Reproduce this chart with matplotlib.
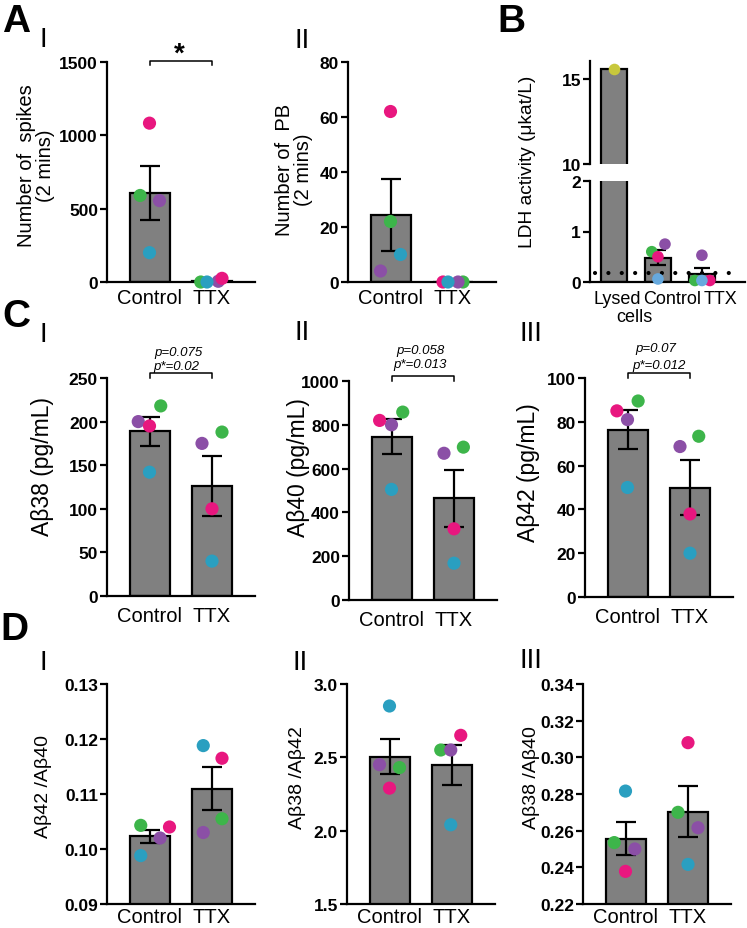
import matplotlib
matplotlib.use('Agg')
import matplotlib.pyplot as plt
import matplotlib.transforms as mtransforms
import numpy as np

plt.rcParams['font.family'] = ['Liberation Sans', 'DejaVu Sans']

W, H = 747, 929

## Data, one value per culture in the order green, purple, pink, teal
groups = ['Control', 'TTX']
spikes_ctrl = [590, 555, 1083, 200]
spikes_ttx = [0, 5, 25, 0]
pb_ctrl = [22, 4, 62, 10]
pb_ttx = [0, 0, 0, 0]
ldh_groups = ['Lysed', 'Control', 'TTX']
ldh_lysed = [15.6]
ldh_ctrl = [0.60, 0.75, 0.50, 0.06]
ldh_ttx = [0.03, 0.53, 0.03, 0.03]
ldh_background = 0.17
ab38_ctrl = [218, 200, 195, 142]
ab38_ttx = [188, 175, 100, 40]
ab40_ctrl = [858, 800, 820, 505]
ab40_ttx = [698, 670, 325, 168]
ab42_ctrl = [89.5, 81, 85, 50]
ab42_ttx = [73.4, 68.7, 37.9, 20]
r42_40_ctrl = [0.1043, 0.1020, 0.1040, 0.0988]
r42_40_ttx = [0.1055, 0.1030, 0.1165, 0.1188]
r38_42_ctrl = [2.43, 2.45, 2.29, 2.85]
r38_42_ttx = [2.55, 2.55, 2.65, 2.04]
r38_40_ctrl = [0.2535, 0.2500, 0.2378, 0.2816]
r38_40_ttx = [0.270, 0.2616, 0.308, 0.2416]

## Style
BAR_GREY = '#808080'
LW = 1.6
DOT = 90
COLS = ['#3db54a', '#8b4fa6', '#e8177f', '#2a9fc0']
COLS_B = ['#3db54a', '#8b4fa6', '#e8177f', '#66a9de']
YELLOW = '#c8c83c'
XLIM = (-0.68, 1.68)
SPACING = 62.5  # px per group

fig = plt.figure(figsize=(W / 100, H / 100), dpi=100)


def add_ax(left, top, right, bottom):
    return fig.add_axes([left / W, 1 - bottom / H, (right - left) / W, (bottom - top) / H])


def ftext(x, y, s, **kw):
    return fig.text(x / W, 1 - y / H, s, **kw)


def style(ax, yticks, fmt, xpad=4):
    for s in ['top', 'right']:
        ax.spines[s].set_visible(False)
    for s in ['left', 'bottom']:
        ax.spines[s].set_linewidth(LW)
    ax.set_yticks(yticks, [fmt % t for t in yticks], fontweight='bold', fontsize=12.5)
    ax.tick_params(axis='y', width=LW, length=5, pad=1.5)
    ax.tick_params(axis='x', length=0, pad=xpad, labelsize=14.5)
    ax.set_facecolor('none')


def draw_groups(ax, series, jitter, colors, width=0.64, capsize=7.5, dot=DOT):
    for i, vals in enumerate(series):
        vals = np.asarray(vals, dtype=float)
        mean = vals.mean()
        ax.bar(i, mean, width=width, color=BAR_GREY, edgecolor='black', linewidth=LW, zorder=1)
        if len(vals) > 1:
            sem = vals.std(ddof=1) / np.sqrt(len(vals))
            ax.errorbar(i, mean, yerr=sem, fmt='none', ecolor='black', elinewidth=LW,
                        capsize=capsize, capthick=LW, zorder=2)
        ax.scatter(i + np.asarray(jitter[i]), vals, s=dot, c=colors[:len(vals)],
                   linewidths=0, zorder=3, clip_on=False)


def two_bar(left, top, bottom, ctrl, ttx, jitter, ylim, yticks, fmt, xpad):
    ax = add_ax(left, top, left + SPACING * (XLIM[1] - XLIM[0]), bottom)
    draw_groups(ax, [ctrl, ttx], jitter, COLS)
    ax.set_xlim(*XLIM)
    ax.set_ylim(*ylim)
    ax.set_xticks([0, 1], groups)
    style(ax, yticks, fmt, xpad)
    return ax


def bracket(ax, up_px, leg_px):
    h = ax.get_position().height * H
    tr = mtransforms.blended_transform_factory(ax.transData, ax.transAxes)
    y0 = 1 + up_px / h
    y1 = y0 - leg_px / h
    ax.plot([0, 0, 1, 1], [y1, y0, y0, y1], transform=tr, color='black', lw=1.1,
            clip_on=False)


## Panel A
axA1 = two_bar(107, 63, 283, spikes_ctrl, spikes_ttx,
               [[-0.15, 0.16, 0, 0], [-0.18, 0.1, 0.16, -0.08]],
               (0, 1500), [0, 500, 1000, 1500], '%d', 4)
bracket(axA1, 1, 4)
ftext(179, 62, '*', fontsize=20, fontweight='bold', ha='center', va='baseline')

axA2 = two_bar(348, 63, 283, pb_ctrl, pb_ttx,
               [[0, -0.16, 0, 0.16], [0.16, 0.08, -0.16, -0.08]],
               (0, 80), [0, 20, 40, 60, 80], '%d', 4)

## Panel B (broken axis)
b_left, b_right = 590, 745
axBt = add_ax(b_left, 62, b_right, 165)
axBb = add_ax(b_left, 182, b_right, 283)
for ax in (axBt, axBb):
    ax.bar(0, ldh_lysed[0], width=0.6, color=BAR_GREY, edgecolor='black', linewidth=LW, zorder=1)
    ax.set_xlim(-0.545, 2.98)
axBt.scatter([0], ldh_lysed, s=70, c=YELLOW, linewidths=0, zorder=3, clip_on=False)
axBt.set_ylim(10, 16.06)
style(axBt, [10, 15], '%d')
axBt.spines['bottom'].set_visible(False)
axBt.set_xticks([])

for i, vals in enumerate([ldh_ctrl, ldh_ttx]):
    pass
draw_groups_b = [ldh_ctrl, ldh_ttx]
vals_pos = [1, 2]
jit_b = [[-0.14, 0.16, 0, 0], [-0.16, 0, 0.18, 0]]
for pos, vals, jit in zip(vals_pos, draw_groups_b, jit_b):
    v = np.asarray(vals, dtype=float)
    m = v.mean()
    sem = v.std(ddof=1) / np.sqrt(len(v))
    axBb.bar(pos, m, width=0.6, color=BAR_GREY, edgecolor='black', linewidth=LW, zorder=1)
    axBb.errorbar(pos, m, yerr=sem, fmt='none', ecolor='black', elinewidth=LW,
                  capsize=6, capthick=LW, zorder=2)
    axBb.scatter(pos + np.asarray(jit), v, s=70, c=COLS_B, linewidths=0, zorder=3, clip_on=False)
axBb.axhline(ldh_background, xmin=0.03, xmax=0.9, color='black', lw=3,
             linestyle=(0, (0.01, 3.2)), dash_capstyle='round', zorder=2.5)
axBb.set_ylim(0, 2)
style(axBb, [0, 1, 2], '%d')
axBb.set_xticks([])
ftext(617, 300, 'Lysed', fontsize=13, ha='center', va='center')
ftext(634, 317, 'cells', fontsize=13, ha='center', va='center')
ftext(672, 300, 'Control', fontsize=13, ha='center', va='center')
ftext(720, 300, 'TTX', fontsize=13, ha='center', va='center')

## Panel C
axC1 = two_bar(107, 379, 597, ab38_ctrl, ab38_ttx,
               [[0.18, -0.18, 0, 0], [0.16, -0.16, 0, 0]],
               (0, 250), [0, 50, 100, 150, 200, 250], '%d', 7)
axC2 = two_bar(349, 382, 601, ab40_ctrl, ab40_ttx,
               [[0.18, 0, -0.19, 0], [0.15, -0.16, 0, 0]],
               (0, 1000), [0, 200, 400, 600, 800, 1000], '%d', 7)
axC3 = two_bar(585, 379, 598, ab42_ctrl, ab42_ttx,
               [[0.17, 0, -0.17, 0], [0.14, -0.16, 0, 0]],
               (0, 100), [0, 20, 40, 60, 80, 100], '%d', 7)
for ax in (axC1, axC2, axC3):
    bracket(ax, 5, 5)
ptxt = dict(fontsize=9.5, style='italic', ha='center', va='center')
ftext(178, 353, 'p=0.075', **ptxt)
ftext(176, 367, 'p*=0.02', **ptxt)
ftext(420, 351, 'p=0.058', **ptxt)
ftext(420, 365, 'p*=0.013', **ptxt)
ftext(656, 349, 'p=0.07', **ptxt)
ftext(659, 366, 'p*=0.012', **ptxt)

## Panel D
axD1 = two_bar(107, 685, 905, r42_40_ctrl, r42_40_ttx,
               [[-0.14, 0.17, 0.32, -0.14], [0.16, -0.14, 0.16, -0.14]],
               (0.09, 0.13), [0.09, 0.10, 0.11, 0.12, 0.13], '%.2f', 2)
axD2 = two_bar(347, 685, 905, r38_42_ctrl, r38_42_ttx,
               [[0.16, -0.16, 0, 0], [-0.18, -0.02, 0.14, -0.02]],
               (1.5, 3.0), [1.5, 2.0, 2.5, 3.0], '%.1f', 2)
axD3 = two_bar(583, 685, 905, r38_40_ctrl, r38_40_ttx,
               [[-0.18, 0.15, 0, 0], [-0.16, 0.16, 0, 0]],
               (0.22, 0.34), [0.22, 0.24, 0.26, 0.28, 0.30, 0.32, 0.34], '%.2f', 2)

## Axis titles
lab = dict(rotation=90, ha='center', va='center')
ftext(36, 166, 'Number of  spikes\n(2 mins)', fontsize=14.5, linespacing=1.05, **lab)
ftext(294, 170, 'Number of  PB\n(2 mins)', fontsize=14.5, linespacing=1.05, **lab)
ftext(528, 162, 'LDH activity (\u03bckat/L)', fontsize=13.8, **lab)
ftext(42, 467, 'A\u03b238 (pg/mL)', fontsize=16.5, **lab)
ftext(298, 468, 'A\u03b240 (pg/mL)', fontsize=16.5, **lab)
ftext(529, 473, 'A\u03b242 (pg/mL)', fontsize=16.5, **lab)
ftext(43, 786, 'A\u03b242 /A\u03b240', fontsize=14, **lab)
ftext(298, 778, 'A\u03b238 /A\u03b242', fontsize=14, **lab)
ftext(531, 778, 'A\u03b238 /A\u03b240', fontsize=14, **lab)

## Panel letters and numerals
big = dict(fontsize=28, fontweight='bold', ha='center', va='baseline')
ftext(16, 32, 'A', **big)
ftext(511, 32, 'B', **big)
ftext(16, 327, 'C', **big)
ftext(14, 640, 'D', **big)
num = dict(fontsize=20, ha='center', va='baseline')
for x, y, s in [(43, 47, 'I'), (302, 48, 'II'),
                (43, 342, 'I'), (302, 340, 'II'), (531, 341, 'III'),
                (43, 670, 'I'), (300, 670, 'II'), (531, 668, 'III')]:
    ftext(x, y, s, **num)

fig.savefig('out.png', dpi=100)
